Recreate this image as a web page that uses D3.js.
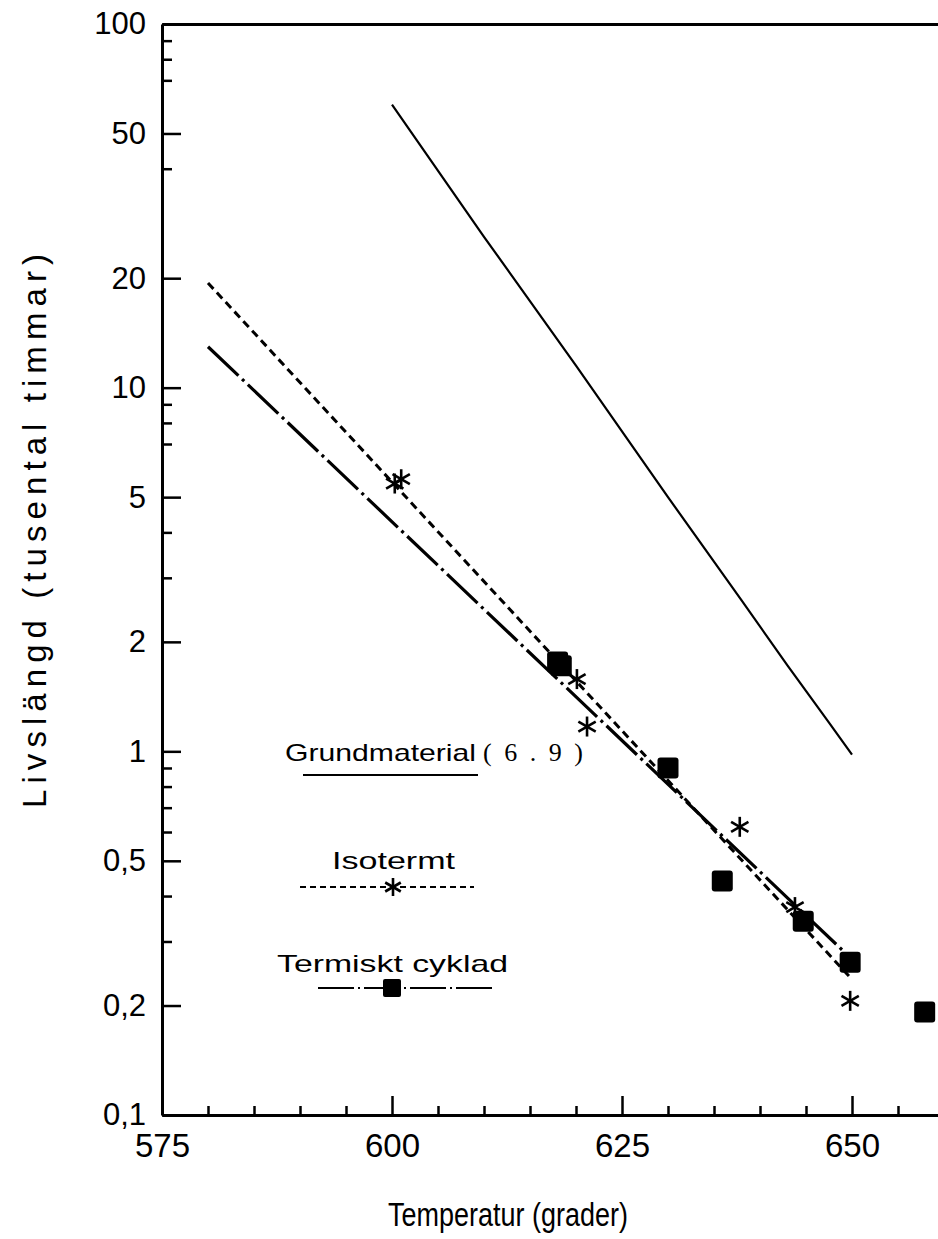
<!DOCTYPE html>
<html>
<meta charset="utf-8">
<head>
  <title>Livslängd mot temperatur</title>
</head>

<style>
body { margin: 0; background: white; }
text {
  font-family: "Liberation Sans", Arial, sans-serif;
  fill: black;
}
.axis path, .axis line { stroke: black; }
.axis path { stroke-width: 3px; }
.axis line { stroke-width: 2.5px; }
.axis text { font-family: "Liberation Sans", Arial, sans-serif; fill: black; }
</style>

<body>
  <svg width="938" height="1239"></svg>

  <script src="https://cdnjs.cloudflare.com/ajax/libs/d3/7.8.5/d3.min.js"></script>
  <script>

// tick values
var xMajor = [575, 600, 625, 650];
var xMinor = [580, 585, 590, 595, 605, 610, 615, 620, 630, 635, 640, 645, 655];
var yMajor = [100, 50, 20, 10, 5, 2, 1, 0.5, 0.2, 0.1];
var yMinor = [90, 80, 70, 40, 9, 8, 7, 4, 3, 0.9, 0.8, 0.7, 0.6, 0.4, 0.3];

// Grundmaterial (6.9), solid curve
var grundTemp = [600, 610, 620, 630, 638, 643, 647.5, 650];
var grundLife = [60, 26, 11.5, 5.0, 2.6, 1.72, 1.2, 0.98];

// Isotermt: fitted line + measured points (asterisks)
var isoLineTemp = [580, 650];
var isoLineLife = [19.4, 0.236];
var isoTemp = [600.3, 601, 620.1, 621.2, 637.8, 643.8, 649.8];
var isoLife = [5.45, 5.6, 1.58, 1.17, 0.62, 0.373, 0.206];

// Termiskt cyklad: fitted line + measured points (squares)
var cykLineTemp = [580, 650];
var cykLineLife = [12.96, 0.268];
var cykTemp = [618, 618.4, 630, 635.9, 644.7, 649.8, 657.9];
var cykLife = [1.76, 1.72, 0.9, 0.44, 0.341, 0.263, 0.192];

function zip(a, b) {
  return a.map(function(v, i) { return [v, b[i]]; });
}

var svg = d3.select('svg');

var x = d3.scaleLinear().domain([575, 660]).range([162, 944]);
var y = d3.scaleLog().domain([0.1, 100]).range([1115, 24]);

var fmt = function(d) { return String(d).replace('.', ','); };

// left axis, ticks pointing inwards
svg.append('g')
  .attr('class', 'axis')
  .attr('transform', 'translate(' + x(575) + ',0)')
  .call(d3.axisLeft(y).tickValues(yMajor).tickSize(-19).tickSizeOuter(0)
        .tickPadding(16).tickFormat(fmt))
  .selectAll('text')
  .attr('font-size', 31);

svg.append('g')
  .attr('class', 'axis')
  .attr('transform', 'translate(' + x(575) + ',0)')
  .call(d3.axisLeft(y).tickValues(yMinor).tickSize(-10).tickSizeOuter(0).tickFormat(''))
  .select('.domain').remove();

// bottom axis
svg.append('g')
  .attr('class', 'axis')
  .attr('transform', 'translate(0,' + y(0.1) + ')')
  .call(d3.axisBottom(x).tickValues(xMajor).tickSize(-19).tickSizeOuter(0).tickPadding(19))
  .selectAll('text')
  .attr('font-size', 33);

svg.append('g')
  .attr('class', 'axis')
  .attr('transform', 'translate(0,' + y(0.1) + ')')
  .call(d3.axisBottom(x).tickValues(xMinor).tickSize(-9).tickSizeOuter(0).tickFormat(''))
  .select('.domain').remove();

// top frame line
svg.append('g')
  .attr('class', 'axis')
  .attr('transform', 'translate(0,' + y(100) + ')')
  .call(d3.axisTop(x).tickValues([]).tickSizeOuter(0));

// axis titles
svg.append('text')
  .attr('x', 388).attr('y', 1226)
  .attr('font-size', 33)
  .attr('textLength', 240).attr('lengthAdjust', 'spacingAndGlyphs')
  .text('Temperatur (grader)');

svg.append('text')
  .attr('transform', 'translate(46,808) rotate(-90)')
  .attr('font-size', 33)
  .attr('textLength', 554).attr('lengthAdjust', 'spacing')
  .text('Livslängd (tusental timmar)');

var line = d3.line()
  .x(function(d) { return x(d[0]); })
  .y(function(d) { return y(d[1]); });

svg.append('path')
  .datum(zip(grundTemp, grundLife))
  .attr('d', line)
  .attr('fill', 'none').attr('stroke', 'black').attr('stroke-width', 2.2);

svg.append('path')
  .datum(zip(isoLineTemp, isoLineLife))
  .attr('d', line)
  .attr('fill', 'none').attr('stroke', 'black').attr('stroke-width', 3)
  .attr('stroke-dasharray', '8,5');

svg.append('path')
  .datum(zip(cykLineTemp, cykLineLife))
  .attr('d', line)
  .attr('fill', 'none').attr('stroke', 'black').attr('stroke-width', 3.2)
  .attr('stroke-dasharray', '42,5,3,5');

// markers
function star(g, r) {
  [90, 30, 150].forEach(function(a) {
    var dx = r * Math.cos(a * Math.PI / 180), dy = r * Math.sin(a * Math.PI / 180);
    g.append('line')
      .attr('x1', -dx).attr('y1', -dy).attr('x2', dx).attr('y2', dy)
      .attr('stroke', 'black').attr('stroke-width', 2.6);
  });
}

svg.selectAll('.sq')
  .data(zip(cykTemp, cykLife))
  .enter()
  .append('rect')
  .attr('class', 'sq')
  .attr('x', function(d) { return x(d[0]) - 10.5; })
  .attr('y', function(d) { return y(d[1]) - 10.5; })
  .attr('width', 21).attr('height', 21)
  .attr('rx', 3)
  .attr('fill', 'black');

svg.selectAll('.st')
  .data(zip(isoTemp, isoLife))
  .enter()
  .append('g')
  .attr('class', 'st')
  .attr('transform', function(d) { return 'translate(' + [x(d[0]), y(d[1])] + ')'; })
  .each(function() { star(d3.select(this), 10); });

// legend
var leg = svg.append('g');

leg.append('text')
  .attr('x', 285).attr('y', 761)
  .attr('font-size', 24)
  .attr('textLength', 191).attr('lengthAdjust', 'spacingAndGlyphs')
  .text('Grundmaterial');
leg.append('text')
  .attr('x', 483).attr('y', 761)
  .style('font-family', '"Liberation Serif", serif')
  .attr('font-size', 26)
  .attr('textLength', 100).attr('lengthAdjust', 'spacing')
  .text('(6.9)');
leg.append('line')
  .attr('x1', 303).attr('x2', 478).attr('y1', 775).attr('y2', 775)
  .attr('stroke', 'black').attr('stroke-width', 2.2);

leg.append('text')
  .attr('x', 332).attr('y', 869)
  .attr('font-size', 24)
  .attr('textLength', 123).attr('lengthAdjust', 'spacingAndGlyphs')
  .text('Isotermt');
leg.append('line')
  .attr('x1', 300).attr('x2', 474).attr('y1', 887).attr('y2', 887)
  .attr('stroke', 'black').attr('stroke-width', 2)
  .attr('stroke-dasharray', '6,4');
star(leg.append('g').attr('transform', 'translate(393,887)'), 9);

leg.append('text')
  .attr('x', 277).attr('y', 972)
  .attr('font-size', 24)
  .attr('textLength', 231).attr('lengthAdjust', 'spacingAndGlyphs')
  .text('Termiskt cyklad');
leg.append('line')
  .attr('x1', 318).attr('x2', 494).attr('y1', 988).attr('y2', 988)
  .attr('stroke', 'black').attr('stroke-width', 2.2)
  .attr('stroke-dasharray', '36,4,2,4');
leg.append('rect')
  .attr('x', 383).attr('y', 979).attr('width', 18).attr('height', 18)
  .attr('rx', 2).attr('fill', 'black');

  </script>
</body>
</html>
